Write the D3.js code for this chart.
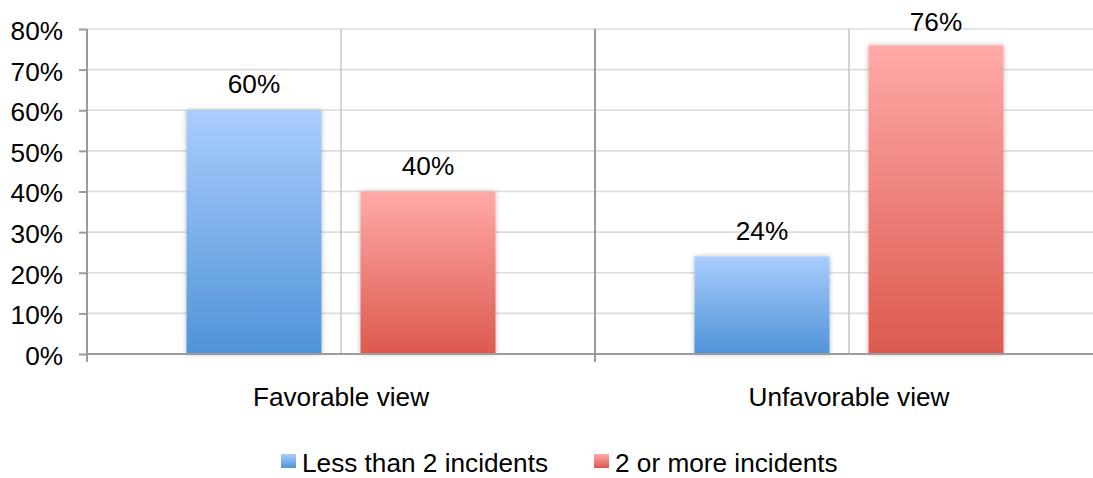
<!DOCTYPE html>
<html>
<head>
<meta charset="utf-8">
<script src="https://cdn.jsdelivr.net/npm/d3@7"></script>
<style>
  html, body { margin: 0; padding: 0; background: #fff; }
  svg { display: block; font-family: "Liberation Sans", Arial, Helvetica, sans-serif; }
</style>
</head>
<body>
<svg id="chart" width="1093" height="478"></svg>
<script>
const categories = ["Favorable view", "Unfavorable view"];
const seriesNames = ["Less than 2 incidents", "2 or more incidents"];
const lessThan2 = [0.60, 0.24];
const twoOrMore = [0.40, 0.76];
const yTicks = [0, 0.1, 0.2, 0.3, 0.4, 0.5, 0.6, 0.7, 0.8];

(function () {
const seriesValues = [lessThan2, twoOrMore];
const gradIds = ["gradBlue", "gradRed"];
const gradStops = [["#aacdfd", "#4f93d8"], ["#ffaaa8", "#dc594e"]];

const svg = d3.select("#chart");
const pLeft = 87, pRight = 1103, pTop = 29, pBottom = 354;
const fontSize = 26.2;

const defs = svg.append("defs");
gradIds.forEach((id, i) => {
  const g = defs.append("linearGradient").attr("id", id)
    .attr("x1", 0).attr("y1", 0).attr("x2", 0).attr("y2", 1);
  g.append("stop").attr("offset", "0%").attr("stop-color", gradStops[i][0]);
  g.append("stop").attr("offset", "100%").attr("stop-color", gradStops[i][1]);
});
const f = defs.append("filter").attr("id", "shadow")
  .attr("x", "-10%").attr("y", "-5%").attr("width", "120%").attr("height", "110%");
f.append("feDropShadow").attr("dx", 0).attr("dy", 0).attr("stdDeviation", 2.5)
  .attr("flood-color", "#000").attr("flood-opacity", 0.28);

const y = d3.scaleLinear().domain([0, 0.8]).range([pBottom, pTop]);
const x = d3.scaleBand().domain(categories).range([pLeft, pRight]).padding(0);
const xs = d3.scaleBand().domain(seriesNames).range([0, x.bandwidth()])
  .paddingInner(39 / 174).paddingOuter(0.5718);

// horizontal gridlines
svg.append("g").selectAll("line").data(yTicks.slice(1)).join("line")
  .attr("x1", pLeft).attr("x2", pRight)
  .attr("y1", d => y(d)).attr("y2", d => y(d))
  .attr("stroke", "#dcdcdc").attr("stroke-width", 1.6);

// light vertical lines at category centers
svg.append("g").selectAll("line").data(categories).join("line")
  .attr("x1", d => x(d) + x.bandwidth() / 2).attr("x2", d => x(d) + x.bandwidth() / 2)
  .attr("y1", pTop).attr("y2", pBottom)
  .attr("stroke", "#c9c9c9").attr("stroke-width", 1.6);

// category divider lines (dark)
const boundaries = categories.map(c => x(c)).concat([x(categories[categories.length - 1]) + x.bandwidth()]);
svg.append("g").selectAll("line").data(boundaries.slice(1)).join("line")
  .attr("x1", d => d).attr("x2", d => d)
  .attr("y1", pTop).attr("y2", pBottom + 8)
  .attr("stroke", "#9b9b9b").attr("stroke-width", 2);

// bars
const barData = [];
categories.forEach((c, ci) => {
  seriesNames.forEach((s, si) => {
    barData.push({ c, s, si, v: seriesValues[si][ci] });
  });
});
svg.append("g").selectAll("rect").data(barData).join("rect")
  .attr("x", d => x(d.c) + xs(d.s))
  .attr("width", xs.bandwidth())
  .attr("y", d => y(d.v))
  .attr("height", d => pBottom - y(d.v))
  .attr("fill", d => `url(#${gradIds[d.si]})`)
  .attr("filter", "url(#shadow)");

// value labels
svg.append("g").selectAll("text").data(barData).join("text")
  .attr("x", d => x(d.c) + xs(d.s) + xs.bandwidth() / 2)
  .attr("y", d => Math.max(y(d.v) - 17, 31))
  .attr("text-anchor", "middle")
  .attr("font-size", fontSize)
  .attr("fill", "#000")
  .text(d => d3.format(".0%")(d.v));

// y axis
const yAxis = svg.append("g").attr("transform", `translate(${pLeft},0)`)
  .call(d3.axisLeft(y).tickValues(yTicks).tickFormat(d3.format(".0%")).tickSize(8).tickPadding(16));
yAxis.select(".domain").attr("stroke", "#9b9b9b").attr("stroke-width", 2)
  .attr("d", `M0,${pTop}V${pBottom}`);
yAxis.selectAll(".tick line").attr("stroke", "#9b9b9b").attr("stroke-width", 2);
yAxis.selectAll(".tick text").attr("font-size", fontSize).attr("fill", "#000")
  .attr("font-family", "Liberation Sans, Arial, Helvetica, sans-serif")
  .attr("dy", "0.4em");

// x axis
const xAxis = svg.append("g").attr("transform", `translate(0,${pBottom})`)
  .call(d3.axisBottom(x).tickSize(0).tickPadding(33));
xAxis.select(".domain").attr("stroke", "#9b9b9b").attr("stroke-width", 2)
  .attr("d", `M${pLeft},0H${pRight}`);
xAxis.selectAll(".tick text").attr("font-size", fontSize).attr("fill", "#000")
  .attr("font-family", "Liberation Sans, Arial, Helvetica, sans-serif");
svg.append("line").attr("x1", pLeft).attr("x2", pLeft).attr("y1", pBottom).attr("y2", pBottom + 8)
  .attr("stroke", "#9b9b9b").attr("stroke-width", 2);

// legend
const legendX = [281, 594];
const lg = svg.append("g").selectAll("g").data(seriesNames).join("g")
  .attr("transform", (d, i) => `translate(${legendX[i]},454)`);
lg.append("rect").attr("width", 15).attr("height", 14)
  .attr("fill", (d, i) => `url(#${gradIds[i]})`);
lg.append("text").attr("x", 21).attr("y", 18)
  .attr("font-size", fontSize).attr("fill", "#000").text(d => d);
})();
</script>
</body>
</html>
